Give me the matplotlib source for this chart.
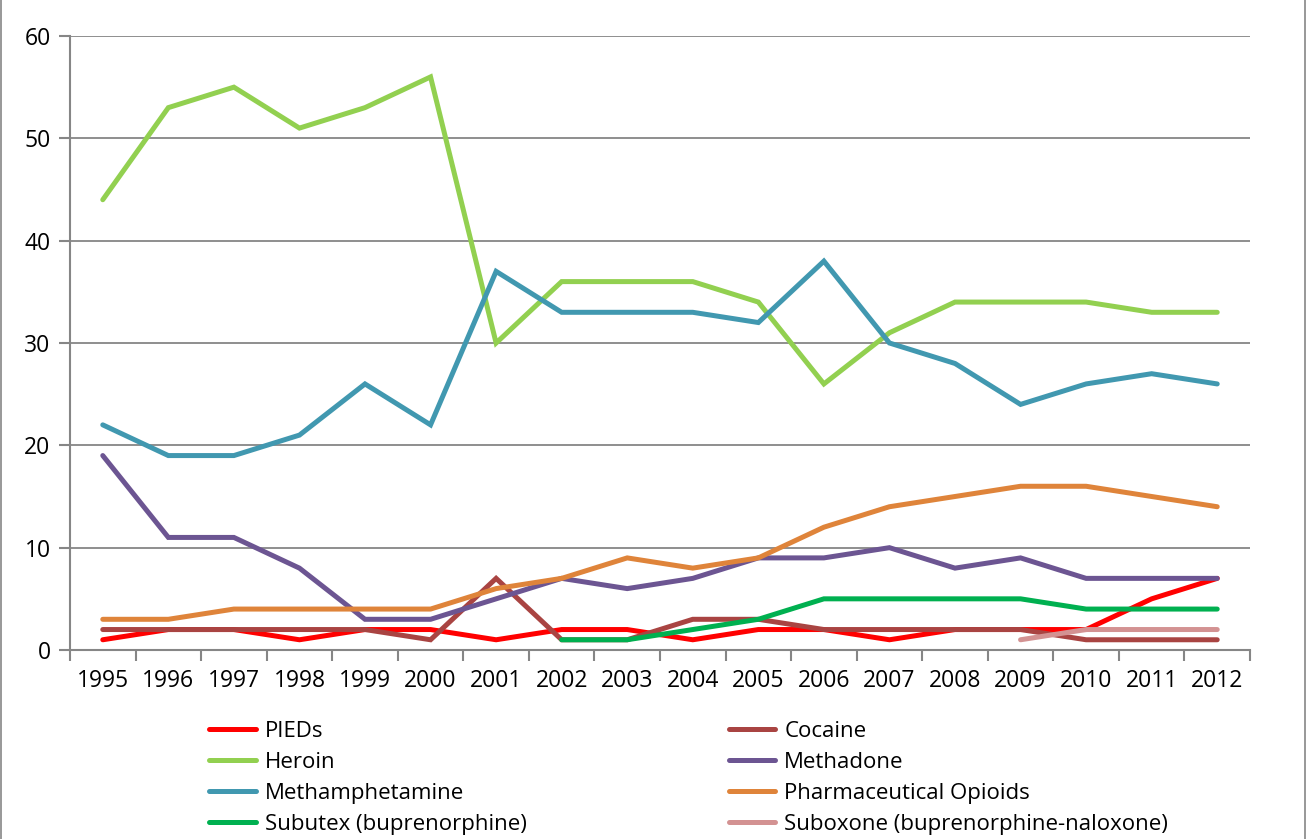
import numpy as np
import matplotlib.pyplot as plt
from matplotlib.lines import Line2D

years = list(range(1995, 2013))

pieds = [1, 2, 2, 1, 2, 2, 1, 2, 2, 1, 2, 2, 1, 2, 2, 2, 5, 7]
cocaine = [2, 2, 2, 2, 2, 1, 7, 1, 1, 3, 3, 2, 2, 2, 2, 1, 1, 1]
heroin = [44, 53, 55, 51, 53, 56, 30, 36, 36, 36, 34, 26, 31, 34, 34, 34, 33, 33]
methadone = [19, 11, 11, 8, 3, 3, 5, 7, 6, 7, 9, 9, 10, 8, 9, 7, 7, 7]
meth = [22, 19, 19, 21, 26, 22, 37, 33, 33, 33, 32, 38, 30, 28, 24, 26, 27, 26]
pharma = [3, 3, 4, 4, 4, 4, 6, 7, 9, 8, 9, 12, 14, 15, 16, 16, 15, 14]
# series that start later
subutex_years = list(range(2002, 2013))
subutex = [1, 1, 2, 3, 5, 5, 5, 5, 4, 4, 4]
suboxone_years = list(range(2009, 2013))
suboxone = [1, 2, 2, 2]

series = [
    ("PIEDs", years, pieds, "#FF0000"),
    ("Cocaine", years, cocaine, "#A94442"),
    ("Heroin", years, heroin, "#92D050"),
    ("Methadone", years, methadone, "#6C5592"),
    ("Methamphetamine", years, meth, "#4198B0"),
    ("Pharmaceutical Opioids", years, pharma, "#DF843A"),
    ("Subutex (buprenorphine)", subutex_years, subutex, "#00B050"),
    ("Suboxone (buprenorphine-naloxone)", suboxone_years, suboxone, "#D39292"),
]

plt.rcParams['font.family'] = ['Open Sans', 'DejaVu Sans']

fig = plt.figure(figsize=(13.1, 8.39), dpi=100)
ax = fig.add_axes([70 / 1310, 1 - 650 / 839, 1180 / 1310, 614 / 839])

handles = []
for name, xs, ys, col in series:
    idx = [years.index(y) for y in xs]
    ax.plot(idx, ys, color=col, lw=3.6, solid_capstyle='round', solid_joinstyle='miter')
    handles.append(Line2D([], [], color=col, lw=3.6, solid_capstyle='round'))

ax.set_xlim(-0.5, len(years) - 0.5)
ax.set_ylim(0, 60)
ax.set_yticks(range(0, 61, 10))
ax.set_xticks(range(len(years)))
ax.set_xticklabels([str(y) for y in years])
ax.set_xticks(np.arange(-0.5, len(years), 1), minor=True)
ax.tick_params(axis='x', which='major', length=0, pad=14, labelsize=16.5)
ax.tick_params(axis='x', which='minor', length=8, width=1.5, color='#868686', direction='out')
ax.tick_params(axis='y', length=8, width=1.5, color='#868686', direction='out', labelsize=16.5, pad=6)
ax.yaxis.grid(True, color='#868686', lw=1.3)
ax.set_axisbelow(True)
for s in ['top', 'right']:
    ax.spines[s].set_visible(False)
for s in ['left', 'bottom']:
    ax.spines[s].set_color('#868686')
    ax.spines[s].set_linewidth(1.5)

# legend reads row by row, matplotlib fills columns first
order = [0, 2, 4, 6, 1, 3, 5, 7]
fig.legend([handles[i] for i in order], [series[i][0] for i in order], ncol=2, loc='upper left',
           bbox_to_anchor=(198 / 1310, 1 - 710 / 839), frameon=False,
           fontsize=16, handlelength=2.1, handletextpad=0.4,
           columnspacing=9.1, labelspacing=0.45, borderpad=0)

# outer chart border
fig.add_artist(Line2D([0.001, 0.001], [0, 1], color='#868686', lw=1.2, transform=fig.transFigure))
fig.add_artist(Line2D([0.996, 0.996], [0, 1], color='#868686', lw=1.2, transform=fig.transFigure))

fig.savefig('out.png', dpi=100)
